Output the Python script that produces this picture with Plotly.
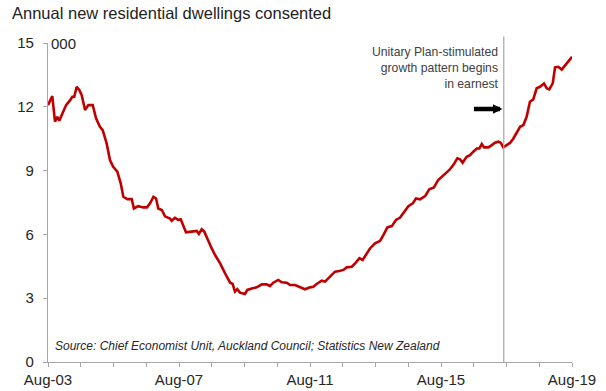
import plotly.graph_objects as go

dates = [
    "2003-08-01", "2003-09-18", "2003-10-18", "2003-11-13", "2003-12-05", "2004-01-01",
    "2004-02-19", "2004-04-02", "2004-04-28", "2004-05-20", "2004-06-16", "2004-07-15",
    "2004-08-11", "2004-09-17", "2004-10-24", "2004-12-12", "2005-01-18", "2005-03-02",
    "2005-04-02", "2005-05-16", "2005-06-22", "2005-07-28", "2005-09-12", "2005-10-20",
    "2005-11-18", "2006-01-02", "2006-02-20", "2006-03-16", "2006-05-03", "2006-06-28",
    "2006-08-09", "2006-09-12", "2006-10-20", "2006-11-18", "2006-12-13", "2007-01-21",
    "2007-02-26", "2007-04-22", "2007-05-11", "2007-06-17", "2007-07-24", "2007-08-20",
    "2007-09-18", "2007-10-18", "2007-12-20", "2008-02-15", "2008-03-10", "2008-04-10",
    "2008-05-09", "2008-06-23", "2008-07-31", "2008-09-06", "2008-11-02", "2008-12-27",
    "2009-02-21", "2009-03-21", "2009-04-16", "2009-05-12", "2009-06-11", "2009-08-06",
    "2009-09-01", "2009-10-20", "2009-12-15", "2010-02-10", "2010-04-05", "2010-05-11",
    "2010-06-17", "2010-08-12", "2010-09-20", "2010-11-15", "2010-12-21", "2011-02-16",
    "2011-04-11", "2011-06-06", "2011-08-01", "2011-09-07", "2011-10-14", "2011-12-09",
    "2012-01-16", "2012-03-11", "2012-05-06", "2012-06-23", "2012-08-07", "2012-09-14",
    "2012-11-09", "2012-12-16", "2013-02-03", "2013-03-10", "2013-04-16", "2013-05-31",
    "2013-07-26", "2013-09-20", "2013-10-27", "2013-12-11", "2014-01-29", "2014-03-17",
    "2014-04-30", "2014-06-14", "2014-08-02", "2014-09-20", "2014-10-26", "2014-12-10",
    "2015-02-05", "2015-03-23", "2015-05-14", "2015-07-01", "2015-09-15", "2015-11-02",
    "2015-12-16", "2016-01-30", "2016-02-29", "2016-03-29", "2016-05-13", "2016-06-20",
    "2016-07-26", "2016-09-03", "2016-10-02", "2016-10-29", "2016-11-24", "2017-01-11",
    "2017-02-18", "2017-03-25", "2017-05-01", "2017-05-28", "2017-06-26", "2017-08-03",
    "2017-09-09", "2017-10-16", "2017-12-10", "2017-12-30", "2018-02-05", "2018-03-13",
    "2018-04-19", "2018-05-26", "2018-07-03", "2018-08-09", "2018-09-23", "2018-10-23",
    "2018-11-21", "2018-12-29", "2019-01-24", "2019-03-01", "2019-04-08", "2019-06-03",
    "2019-08-01",
]

dwellings_000 = [
    12.08, 12.5, 11.3, 11.53, 11.35, 11.6,
    12.08, 12.3, 12.47, 12.47, 12.94, 12.79,
    12.55, 11.85, 12.08, 12.08, 11.46, 11.06,
    10.9, 10.28, 9.5, 9.18, 8.95, 8.4,
    7.77, 7.66, 7.66, 7.22, 7.33, 7.27,
    7.27, 7.46, 7.77, 7.69, 7.22, 7.15,
    6.85, 6.75, 6.64, 6.78, 6.68, 6.71,
    6.36, 6.1, 6.13, 6.16, 6.02, 6.24,
    6.13, 5.66, 5.34, 5.03, 4.64, 4.17,
    3.73, 3.67, 3.31, 3.42, 3.26, 3.2,
    3.39, 3.46, 3.51, 3.65, 3.65, 3.57,
    3.73, 3.86, 3.75, 3.73, 3.62, 3.62,
    3.54, 3.42, 3.51, 3.54, 3.67, 3.82,
    3.78, 4.01, 4.25, 4.28, 4.33, 4.45,
    4.48, 4.64, 4.88, 4.8, 5.03, 5.34,
    5.58, 5.69, 5.97, 6.33, 6.39, 6.68,
    6.78, 7.07, 7.33, 7.46, 7.69, 7.65,
    7.8, 8.12, 8.21, 8.56, 8.84, 9.03,
    9.26, 9.58, 9.53, 9.37, 9.65, 9.73,
    9.89, 10.04, 10.04, 10.25, 10.09, 10.09,
    10.2, 10.31, 10.36, 10.31, 10.09, 10.2,
    10.3, 10.51, 10.9, 11.06, 11.14, 11.53,
    12.24, 12.35, 12.87, 12.94, 13.1, 12.87,
    12.82, 13.1, 13.85, 13.88, 13.75, 14.04,
    14.35,
]

x_range = ["2003-08-01", "2019-08-01"]
y_ticks = [0, 3, 6, 9, 12, 15]
marker_date = "2017-07-01"
arrow_tip_date = "2017-06-16"
arrow_y = 11.9

title_text = "Annual new residential dwellings consented"
note_text = "Unitary Plan-stimulated<br>growth pattern begins<br>in earnest"
source_text = "Source: Chief Economist Unit, Auckland Council; Statistics New Zealand"

AXIS = "#a6a6a6"
FONT = "Liberation Sans, Arial, sans-serif"

fig = go.Figure()
fig.add_trace(go.Scatter(
    x=dates, y=dwellings_000, mode="lines",
    line=dict(color="#c00000", width=2.6),
    hoverinfo="skip", showlegend=False,
))

fig.add_shape(type="line", xref="x", yref="paper",
              x0=marker_date, x1=marker_date, y0=0, y1=1.02,
              line=dict(color=AXIS, width=1.2))

fig.add_annotation(x=marker_date, xref="x", y=1.0, yref="paper",
                   text=note_text, showarrow=False, xanchor="right", yanchor="top",
                   align="right", xshift=-3,
                   font=dict(family=FONT, size=12.2, color="#404040"))

fig.add_annotation(x=arrow_tip_date, y=arrow_y, xref="x", yref="y",
                   ax=-30, ay=0, text="", showarrow=True,
                   arrowhead=2, arrowwidth=4.5, arrowsize=0.42, arrowcolor="#000000")

fig.add_annotation(x=0.0095, xref="paper", y=0.051, yref="paper",
                   text="<i>" + source_text + "</i>", showarrow=False,
                   xanchor="left", yanchor="middle",
                   font=dict(family=FONT, size=12, color="#262626"))

fig.add_annotation(x=0, xref="paper", y=15, yref="y",
                   text="000", showarrow=False, xanchor="left", yanchor="middle",
                   xshift=1,
                   font=dict(family=FONT, size=15, color="#262626"))

fig.update_layout(
    width=606, height=391,
    margin=dict(l=48, r=34, t=43, b=29, autoexpand=False),
    paper_bgcolor="white", plot_bgcolor="white",
    font=dict(family=FONT, size=15, color="#262626"),
    title=dict(text=title_text, x=12 / 606, xref="container", xanchor="left",
               y=1 - 13 / 391, yref="container", yanchor="middle",
               font=dict(family=FONT, size=16.5, color="#222222"),
               automargin=False),
    showlegend=False,
)

fig.update_xaxes(
    type="date", range=x_range, automargin=False,
    tick0="2003-08-01", dtick="M48", tickformat="%b-%y",
    ticks="outside", ticklen=4, tickcolor=AXIS, tickwidth=1,
    minor=dict(ticks="outside", dtick="M12", tick0="2003-08-01",
               ticklen=4, tickcolor=AXIS, showgrid=False),
    showline=True, linecolor=AXIS, linewidth=1.2,
    showgrid=False, zeroline=False,
    tickfont=dict(family=FONT, size=15, color="#262626"),
)

fig.update_yaxes(
    range=[0, 15], tickvals=y_ticks, automargin=False,
    ticks="outside", ticklen=4, tickcolor=AXIS, tickwidth=1,
    ticklabelstandoff=6,
    showline=True, linecolor=AXIS, linewidth=1.2,
    showgrid=False, zeroline=False,
    tickfont=dict(family=FONT, size=15, color="#262626"),
)

fig.write_html(
    "out.html",
    config={"displayModeBar": False},
    post_script="document.body.style.margin='0';document.body.style.overflow='hidden';",
)
